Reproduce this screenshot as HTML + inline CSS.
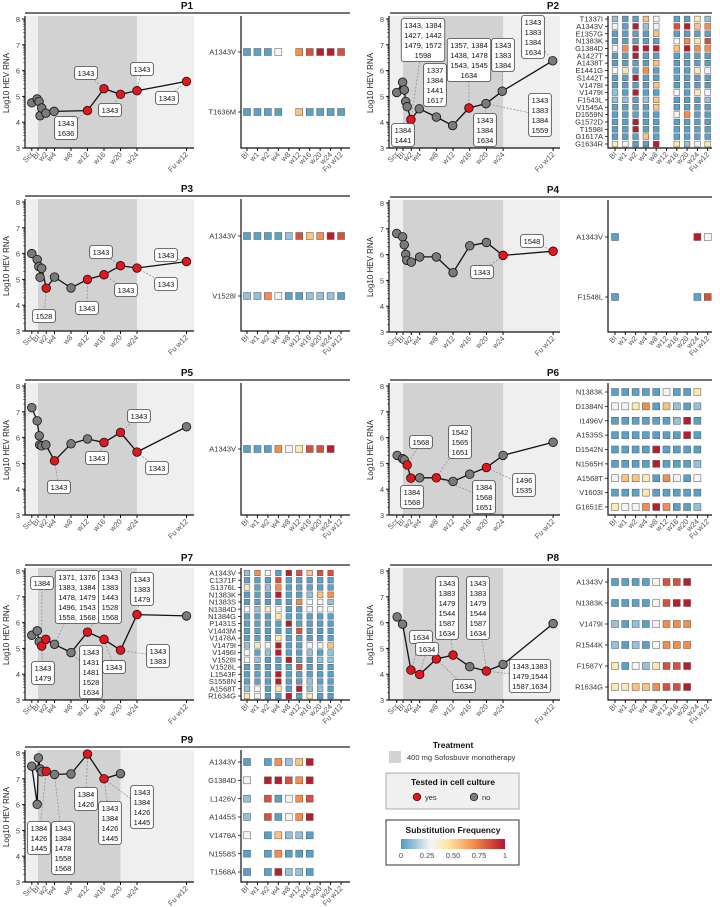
<!DOCTYPE html>
<html><head><meta charset="utf-8"><style>
html,body{margin:0;padding:0;background:#fff;}
svg{display:block;font-family:"Liberation Sans",Arial,sans-serif;}
</style></head><body>
<svg id="fig" width="720" height="907" viewBox="0 0 720 907" xmlns="http://www.w3.org/2000/svg">
<defs>
<linearGradient id="freqGrad" x1="0" x2="1" y1="0" y2="0">
<stop offset="0" stop-color="#4e9bc6"/><stop offset="0.28" stop-color="#f4f4f4"/><stop offset="0.45" stop-color="#fde7a3"/><stop offset="0.7" stop-color="#f78c4b"/><stop offset="1" stop-color="#b5152b"/>
</linearGradient>
</defs>
<g>
<text x="453" y="748" font-size="8.5" font-weight="bold" text-anchor="middle" fill="#111">Treatment</text>
<rect x="389" y="751" width="12" height="12" fill="#d3d3d3"/>
<text x="407" y="760" font-size="7.5" fill="#333">400 mg Sofosbuvir monotherapy</text>
<rect x="386" y="773" width="133" height="36" fill="#f0f0f0" stroke="#999" stroke-width="0.8"/>
<text x="453" y="785" font-size="8.5" font-weight="bold" text-anchor="middle" fill="#111">Tested in cell culture</text>
<circle cx="417" cy="797" r="3.8" fill="#e8141c" stroke="#111" stroke-width="0.7"/>
<text x="425" y="800" font-size="7.5" fill="#333">yes</text>
<circle cx="474" cy="797" r="3.8" fill="#7a7a7a" stroke="#111" stroke-width="0.7"/>
<text x="482" y="800" font-size="7.5" fill="#333">no</text>
<rect x="386" y="820" width="133" height="45" fill="#fff" stroke="#333" stroke-width="1"/>
<text x="453" y="833" font-size="8.5" font-weight="bold" text-anchor="middle" fill="#111">Substitution Frequency</text>
<rect x="401" y="839" width="104" height="10" fill="url(#freqGrad)"/>
<g font-size="7.5" fill="#444" text-anchor="middle">
<text x="401" y="858">0</text><text x="427" y="858">0.25</text><text x="453" y="858">0.50</text><text x="479" y="858">0.75</text><text x="505" y="858">1</text>
</g>
</g>
</svg>
<script>
const B=0.02,b=0.12,W=0.28,Y=0.42,O=0.55,o=0.7,R=0.85,D=0.98,_=null;
const timeLabels=['Scr','Bl','w2','w4','w8','w12','w16','w20','w24','Fu w12'];
const timeWeeks=[-1.5,0,2,4,8,12,16,20,24,36];
const heatCols=['Bl','w1','w2','w4','w8','w12','w16','w20','w24','Fu w12'];
const yTicks=[3,4,5,6,7,8];

const p1Weeks=[-1.5,-0.2,0.25,0.5,0.9,1.9,3.9,12,16,20,24,36];
const p1Values=[4.75,4.9,4.8,4.25,4.55,4.35,4.42,4.45,5.3,5.08,5.22,5.58];
const p1Tested=[0,0,0,0,0,0,0,1,1,1,1,1];
const p1Labels=[[7,66,128,'1343\n1636'],[8,86,73,'1343'],[9,110,110,'1343'],[10,142,69,'1343'],[11,167,98,'1343']];
const p1Muts=['A1343V','T1636M'];
const p1Freq=[[B,B,B,W,_,o,R,D,D,R],[B,B,B,B,_,O,B,B,B,B]];

const p2Weeks=[-1.5,-0.1,0.3,0.65,1.0,1.9,3.9,8,11.9,15.8,19.9,23.8,35.9];
const p2Values=[5.15,5.55,5.25,4.8,4.6,4.1,4.52,4.2,3.87,4.55,4.72,5.2,6.38];
const p2Tested=[0,0,0,0,0,1,0,0,0,1,0,0,0];
const p2Labels=[[5,423,40,'1343, 1384\n1427, 1442\n1479, 1572\n1598'],[6,435,85,'1337\n1384\n1441\n1617'],[5,403,135,'1384\n1441'],[9,469,60,'1357, 1384\n1438, 1478\n1543, 1545\n1634'],[11,503,55,'1343\n1383\n1384'],[12,533,37,'1343\n1383\n1384\n1634'],[10,540,115,'1343\n1383\n1384\n1559'],[10,485,130,'1343\n1384\n1634']];
const p2Muts=['T1337I','A1343V','E1357G','N1383K','G1384D','A1427T','A1438T','E1441G','S1442T','V1478I','V1479I','F1543L','V1545A','D1559N','G1572D','T1598I','G1617A','G1634R'];
const p2Freq=[[b,B,B,O,W,_,B,B,Y,b],[W,B,D,b,W,_,R,D,O,o],[B,B,B,B,O,_,B,B,B,B],[B,B,B,B,B,_,W,o,Y,R],[W,o,D,D,D,_,O,D,o,o],[B,B,D,B,B,_,B,B,B,B],[B,B,B,B,O,_,B,B,B,B],[W,Y,B,o,B,_,B,B,Y,W],[B,B,D,B,B,_,B,B,B,B],[B,B,B,B,O,_,B,B,B,B],[b,B,D,B,B,_,W,B,Y,W],[b,b,B,b,O,_,B,B,B,b],[B,B,B,B,O,_,B,B,B,B],[B,B,B,B,B,_,W,o,B,B],[B,B,D,B,B,_,B,B,B,B],[B,B,D,B,B,_,B,B,B,B],[B,B,B,O,B,_,B,B,B,B],[Y,W,B,B,D,_,Y,b,W,Y]];

const p3Weeks=[-1.5,-0.2,0.2,0.5,0.9,2,4,8,12,16,20,24,36];
const p3Values=[6.0,5.77,5.5,5.08,5.43,4.66,5.09,4.67,5.0,5.18,5.53,5.44,5.69];
const p3Tested=[0,0,0,0,0,1,0,0,1,1,1,1,1];
const p3Labels=[[5,44,133,'1528'],[8,87,125,'1343'],[9,126,107,'1343'],[10,101,69,'1343'],[11,166,101,'1343'],[12,166,72,'1343']];
const p3Muts=['A1343V','V1528I'];
const p3Freq=[[B,B,B,B,b,R,O,o,D,R],[b,b,o,W,B,B,b,b,b,B]];

const p4Weeks=[-1.5,-0.1,0.3,0.65,0.9,2,4,8,12,16,20,24,36];
const p4Values=[6.82,6.69,6.38,6.01,5.78,5.71,5.91,5.91,5.3,6.34,6.47,5.97,6.13];
const p4Tested=[0,0,0,0,0,0,0,0,0,0,0,1,1];
const p4Labels=[[11,482,88,'1343'],[12,532,57,'1548']];
const p4Muts=['A1343V','F1548L'];
const p4Freq=[[B,_,_,_,_,_,_,_,D,W],[B,_,_,_,_,_,_,_,B,R]];

const p5Weeks=[-1.5,-0.2,0.3,0.4,0.9,1.9,4,8,12,16,20,24,36];
const p5Values=[7.16,6.65,6.07,5.72,5.68,5.72,5.1,5.76,5.95,5.81,6.2,5.44,6.42];
const p5Tested=[0,0,0,0,0,0,1,0,0,1,1,1,0];
const p5Labels=[[6,59,120,'1343'],[9,97,91,'1343'],[10,139,49,'1343'],[11,157,101,'1343']];
const p5Muts=['A1343V'];
const p5Freq=[[B,B,B,o,W,Y,R,R,D,_]];

const p6Weeks=[-1.4,-0.1,0.3,1.0,1.9,4,8,12,16,20,24,36];
const p6Values=[5.31,5.18,5.14,4.94,4.43,4.44,4.44,4.3,4.58,4.84,5.31,5.82];
const p6Tested=[0,0,0,1,1,0,1,0,0,1,0,0];
const p6Labels=[[3,421,75,'1568'],[4,412,130,'1384\n1568'],[6,460,75,'1542\n1565\n1651'],[6,484,130,'1384\n1568\n1651'],[9,524,118,'1496\n1535']];
const p6Muts=['N1383K','D1384N','I1496V','A1535S','D1542N','N1565H','A1568T','V1603I','G1651E'];
const p6Freq=[[B,B,B,B,B,W,B,B,Y,_],[W,W,Y,o,B,O,b,B,b,_],[B,B,B,B,B,B,b,D,B,_],[B,B,B,B,B,B,B,D,B,_],[B,B,B,B,D,B,B,B,B,_],[B,B,B,B,D,B,B,B,b,_],[W,O,O,Y,B,o,W,B,W,_],[B,B,B,Y,B,B,B,B,B,_],[Y,W,W,o,D,o,B,B,b,_]];

const p7Weeks=[-1.5,-0.2,0.3,0.9,1.9,4,8,12,16,20,24,36];
const p7Values=[5.51,5.68,5.26,5.09,5.35,5.16,4.84,5.63,5.35,4.93,6.31,6.26];
const p7Tested=[0,0,0,1,1,0,0,1,1,1,1,0];
const p7Labels=[[3,42,31,'1384'],[5,77,45,'1371, 1376\n1383, 1384\n1478, 1479\n1496, 1543\n1558, 1568'],[7,110,45,'1343\n1383\n1443\n1528\n1568'],[10,142,37,'1343\n1383\n1479'],[3,43,121,'1343\n1479'],[6,91,120,'1343\n1431\n1481\n1528\n1634'],[8,114,115,'1343'],[9,158,104,'1343\n1383']];
const p7Muts=['A1343V','C1371F','S1376L','N1383K','N1383S','N1384D','N1384G','P1431S','V1443M','V1478A','V1479I','V1496I','V1528I','V1528L','L1543F','S1558N','A1568T','R1634G'];
const p7Freq=[[b,o,W,B,D,R,O,R,R,_],[B,B,B,R,B,B,B,B,B,_],[Y,B,b,o,B,B,B,B,B,_],[B,B,B,D,B,B,b,O,o,_],[B,B,B,B,B,o,W,W,b,_],[W,b,Y,W,B,B,W,W,W,_],[B,B,B,Y,B,B,B,B,B,_],[B,B,B,B,D,B,B,B,B,_],[B,B,B,B,B,R,B,B,B,_],[B,B,B,Y,B,B,B,B,B,_],[b,Y,W,D,B,B,W,W,O,_],[W,B,b,D,B,B,b,B,b,_],[W,b,B,B,D,B,B,b,b,_],[B,B,B,B,B,R,B,B,B,_],[B,B,B,D,B,B,B,B,B,_],[B,B,B,D,B,B,b,B,B,_],[b,W,B,Y,B,D,b,b,B,_],[Y,W,B,B,D,B,Y,B,B,_]];

const p8Weeks=[-1.4,-0.1,1.9,4,8,12,16,20,24,36];
const p8Values=[6.22,5.94,4.16,3.99,4.59,4.74,4.29,4.12,4.38,5.96];
const p8Tested=[0,0,1,1,1,1,0,1,0,0];
const p8Labels=[[2,421,85,'1634'],[3,427,97,'1634'],[5,447,56,'1343\n1383\n1479\n1544\n1587\n1634'],[7,478,56,'1343\n1383\n1479\n1544\n1587\n1634'],[4,464,134,'1634'],[7,530,124,'1343,1383\n1479,1544\n1587,1634']];
const p8Muts=['A1343V','N1383K','V1479I','R1544K','F1587Y','R1634G'];
const p8Freq=[[B,B,B,B,W,R,R,D,_,_],[B,B,B,B,W,R,D,D,_,_],[b,B,b,B,W,o,o,o,_,_],[b,B,b,B,W,o,o,o,_,_],[Y,B,W,b,Y,R,R,D,_,_],[Y,Y,O,O,o,R,R,D,_,_]];

const p9Weeks=[-1.5,-0.2,0.1,0.5,0.9,2,4,8,12,16,20];
const p9Values=[7.49,6.01,7.81,7.38,7.27,7.29,7.17,7.19,7.96,7.0,7.2];
const p9Tested=[0,0,0,0,0,1,0,0,1,1,0];
const p9Labels=[[5,39,104,'1384\n1426\n1445'],[6,63,114,'1343\n1384\n1478\n1558\n1568'],[8,86,65,'1384\n1426'],[9,110,89,'1343\n1384\n1426\n1445'],[9,142,73,'1343\n1384\n1426\n1445']];
const p9Muts=['A1343V','G1384D','L1426V','A1445S','V1478A','N1558S','T1568A'];
const p9Freq=[[B,_,B,o,b,O,D,_,_,_],[W,_,D,D,R,o,D,_,_,_],[b,_,R,B,W,o,R,_,_,_],[b,_,R,B,W,o,D,_,_,_],[W,_,B,O,b,b,B,_,_,_],[B,_,B,o,B,B,B,_,_,_],[B,_,B,D,b,b,B,_,_,_]];

const NS='http://www.w3.org/2000/svg';
const svg=document.getElementById('fig');
function el(tag,attrs,parent){const e=document.createElementNS(NS,tag);for(const k in attrs)e.setAttribute(k,attrs[k]);(parent||svg).appendChild(e);return e;}
const cols={L:{yAx:25,x0:38,k:4.125,right:194,hAx:241,h0:247,hk:10.45,lineL:25,lineR:350,title:187,yTitle:9},
            R:{yAx:389,x0:403,k:4.17,right:560,hAx:608,h0:615,hk:10.3,lineL:390,lineR:712,title:553,yTitle:373}};
const stops=[[0,[78,155,198]],[0.28,[244,244,244]],[0.45,[253,231,163]],[0.7,[247,140,75]],[1,[181,21,43]]];
function freqColor(v){for(let i=1;i<stops.length;i++){if(v<=stops[i][0]){const a=stops[i-1],c=stops[i];const t=(v-a[0])/(c[0]-a[0]);const m=a[1].map((x,j)=>Math.round(x+(c[1][j]-x)*t));return 'rgb('+m.join(',')+')';}}return 'rgb(181,21,43)';}
function textW(s,fs){let w=0;for(const ch of s){w+=(ch===','||ch===' ')?0.278:0.556;}return w*fs;}

function panel(name,col,off,darkEnd,weeks,values,tested,labels,muts,freq,hTop,hBot){
  const C=cols[col];
  const X=w=>C.x0+C.k*w;
  const Y=v=>off+19+(8-v)*25.8;
  const g=el('g',{});
  
  
  const t=el('text',{x:C.title,y:off+9,'font-size':10,'font-weight':'bold','text-anchor':'middle',fill:'#111'},g);t.textContent=name;
  
  
  const ln=el('line',{x1:C.lineL,x2:C.lineR,y1:off+13,y2:off+13,stroke:'#222','stroke-width':1.3},g);
  
  
  const bg=el('rect',{x:C.yAx+1,y:off+16,width:C.right-C.yAx-1,height:132,fill:'#efefef'},g);
  
  
  const dk=el('rect',{x:X(0),y:off+16,width:X(darkEnd)-X(0),height:132,fill:'#d2d2d2'},g);
  
  
  const ax=el('path',{d:`M${C.yAx} ${off+16}V${off+148}H${C.right}`,fill:'none',stroke:'#111','stroke-width':1.2},g);
  
  
  yTicks.forEach(v=>{
    el('line',{x1:C.yAx-3,x2:C.yAx,y1:Y(v),y2:Y(v),stroke:'#111','stroke-width':1},g);
    const tx=el('text',{x:C.yAx-5,y:Y(v)+3,'font-size':7.5,'text-anchor':'end',fill:'#444'},g);tx.textContent=v;
    
    
    if(v<8)for(let m=2;m<10;m++){const yy=Y(v+Math.log10(m));el('line',{x1:C.yAx-1.8,x2:C.yAx,y1:yy,y2:yy,stroke:'#111','stroke-width':0.6},g);}
  });
  const yt=el('text',{transform:`translate(${C.yTitle},${off+83}) rotate(-90)`,'font-size':8,'text-anchor':'middle',fill:'#222'},g);yt.textContent='Log10 HEV RNA';
  
  
  timeLabels.forEach((lab,i)=>{
    const x=X(timeWeeks[i]);
    el('line',{x1:x,x2:x,y1:off+148,y2:off+151,stroke:'#111','stroke-width':1},g);
    const tx=el('text',{transform:`translate(${x+2},${off+155}) rotate(-45)`,'font-size':7.5,'text-anchor':'end',fill:'#555'},g);tx.textContent=lab;
    
    
  });
  labels.forEach(L=>{const p=L[0];el('line',{x1:X(weeks[p]),y1:Y(values[p]),x2:L[1],y2:off+L[2],stroke:'#888','stroke-width':0.7,'stroke-dasharray':'2,1.5'},g);});
  const path=weeks.map((w,i)=>(i?'L':'M')+X(w).toFixed(1)+' '+Y(values[i]).toFixed(1)).join('');
  const line=el('path',{d:path,fill:'none',stroke:'#111','stroke-width':1.3},g);
  
  
  weeks.forEach((w,i)=>{
    const c=el('circle',{cx:X(w),cy:Y(values[i]),r:4.3,fill:tested[i]?'#e8141c':'#7a7a7a',stroke:'#111','stroke-width':0.8},g);
    
    
  });
  const fs=7.5;
  labels.forEach(L=>{
    const lines=L[3].split('\n');const mx=Math.max(...lines.map(s=>textW(s,fs)));
    const w=mx+6,h=lines.length*10+3;
    const bx=el('g',{},g);
    
    
    el('rect',{x:L[1]-w/2,y:off+L[2]-h/2,width:w,height:h,rx:2.5,fill:'#fff',stroke:'#444','stroke-width':0.8},bx);
    lines.forEach((s,j)=>{const tx=el('text',{x:L[1],y:off+L[2]-h/2+9.5+j*10,'font-size':fs,'text-anchor':'middle',fill:'#111'},bx);tx.textContent=s;});
  });
  const hg=el('g',{},g);
  
  
  el('path',{d:`M${C.hAx} ${off+16}V${off+148}H${C.lineR}`,fill:'none',stroke:'#111','stroke-width':1.2},hg);
  heatCols.forEach((lab,j)=>{
    const x=C.h0+C.hk*j;
    el('line',{x1:x,x2:x,y1:off+148,y2:off+151,stroke:'#111','stroke-width':1},hg);
    const tx=el('text',{transform:`translate(${x+2},${off+155}) rotate(-45)`,'font-size':7.5,'text-anchor':'end',fill:'#555'},hg);tx.textContent=lab;
    
    
  });
  const n=muts.length;
  const step=n>1?(hBot-hTop)/(n-1):20;
  const sz=Math.min(7,step-1.6);
  muts.forEach((m,i)=>{
    const y=off+(n===1?hTop:hTop+step*i);
    el('line',{x1:C.hAx-3,x2:C.hAx,y1:y,y2:y,stroke:'#111','stroke-width':0.8},hg);
    const tx=el('text',{x:C.hAx-5,y:y+2.6,'font-size':7.5,'text-anchor':'end',fill:'#333'},hg);tx.textContent=m;
    
    
    freq[i].forEach((v,j)=>{
      if(v===null)return;
      const x=C.h0+C.hk*j;
      const r=el('rect',{x:x-sz/2,y:y-sz/2,width:sz,height:sz,fill:freqColor(v),stroke:'#555','stroke-width':0.5},hg);
      
      
    });
  });
}
panel('P1','L',0,24,p1Weeks,p1Values,p1Tested,p1Labels,p1Muts,p1Freq,52,112);
panel('P2','R',0,24,p2Weeks,p2Values,p2Tested,p2Labels,p2Muts,p2Freq,19,144);
panel('P3','L',183,24,p3Weeks,p3Values,p3Tested,p3Labels,p3Muts,p3Freq,53,113);
panel('P4','R',184,24,p4Weeks,p4Values,p4Tested,p4Labels,p4Muts,p4Freq,53,113);
panel('P5','L',367,24,p5Weeks,p5Values,p5Tested,p5Labels,p5Muts,p5Freq,82,82);
panel('P6','R',367,24,p6Weeks,p6Values,p6Tested,p6Labels,p6Muts,p6Freq,25,140);
panel('P7','L',552,24,p7Weeks,p7Values,p7Tested,p7Labels,p7Muts,p7Freq,21,144);
panel('P8','R',552,24,p8Weeks,p8Values,p8Tested,p8Labels,p8Muts,p8Freq,30,135);
panel('P9','L',734,20,p9Weeks,p9Values,p9Tested,p9Labels,p9Muts,p9Freq,28,138);
</script>
</body></html>
